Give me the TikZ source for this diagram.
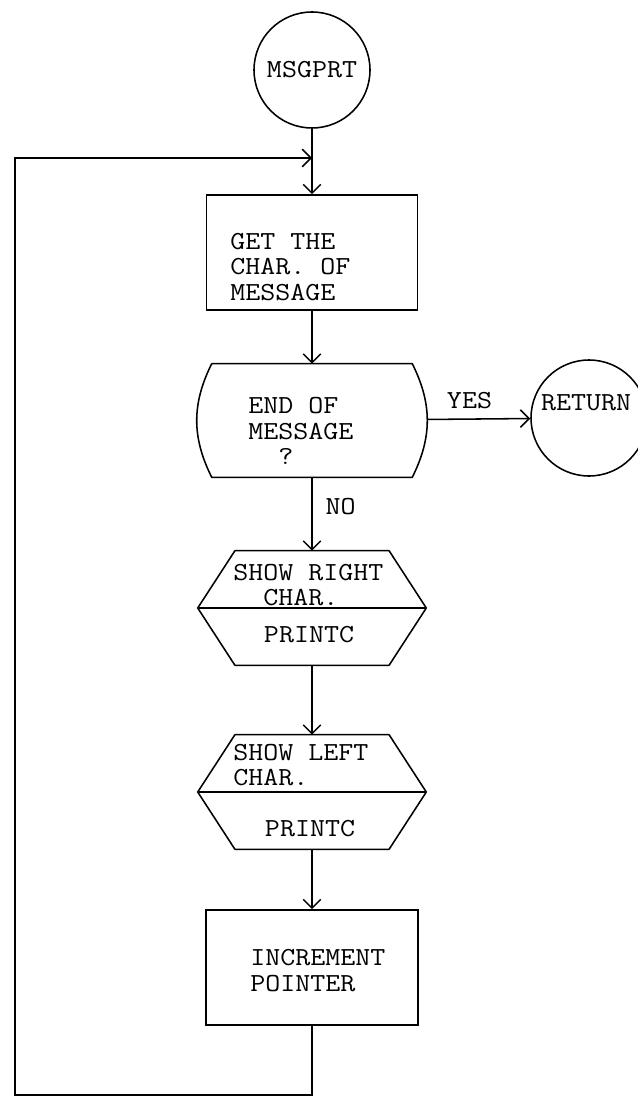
\documentclass[tikz,border=0pt]{standalone}
\usepackage{fontspec}
\setmonofont{Latin Modern Mono}[FakeStretch=1.12]
\usetikzlibrary{positioning,arrows.meta,calc}
\newcommand{\hexout}[1]{%
  \draw[line] ([xshift=9.3mm]#1.north west) -- ([xshift=-9.3mm]#1.north east)
    -- (#1.east) -- ([xshift=-9.3mm]#1.south east)
    -- ([xshift=9.3mm]#1.south west) -- (#1.west) -- cycle;
  \draw[line] (#1.west) -- (#1.east);}
\newcommand{\bulgeout}[1]{%
  \draw[line] ([xshift=3.75mm]#1.north west) -- ([xshift=-3.75mm]#1.north east)
    .. controls +(20,40) and +(20,-40) .. ([xshift=-3.75mm]#1.south east)
    -- ([xshift=3.75mm]#1.south west)
    .. controls +(-20,-40) and +(-20,40) .. ([xshift=3.75mm]#1.north west);}
\tikzset{
  line/.style   ={line width=1.1pt, line join=round},
  procbox/.style={draw, line width=1.1pt, inner sep=0pt},
  term/.style   ={draw, circle, line width=1.1pt, minimum size=29mm,
                  inner sep=0pt, font=\ttfamily\fontsize{18.5}{18.4}\selectfont},
  hexa/.style   ={inner sep=0pt, minimum width=57mm, minimum height=28.5mm},
  decide/.style ={inner sep=0pt, minimum width=57.5mm, minimum height=28.25mm},
  txt/.style    ={inner sep=0pt, align=left,
                  font=\ttfamily\fontsize{18.5}{18.4}\selectfont},
  lbl/.style    ={inner sep=0pt, font=\ttfamily\fontsize{18.5}{18.4}\selectfont},
  ar/.style     ={-{Straight Barb[length=2.2mm,width=4.4mm]}, line width=1.1pt}
}
\begin{document}
\begin{tikzpicture}[x=0.25mm, y=-0.25mm]
\useasboundingbox (0,0) rectangle (637,1097);
% one column of boxes, the loop runs back up the left margin
\node[term]    (start)  at (312,70)    {MSGPRT};
\node[procbox, minimum width=52.75mm, minimum height=28.75mm]
               (getbox) at (312,252.5) {};
\node[txt, anchor=west] (gettxt) at (230,267) {GET THE\\CHAR. OF\\MESSAGE};
\node[decide]  (endq)   at (312,420.5) {};
\bulgeout{endq}
\node[txt, anchor=west] (endtxt) at (248,431)
  {END OF\\MESSAGE\\\phantom{ME}?};
\node[term]    (ret)    at (589,418)   {};
\node[lbl]     (rettxt) at (586,403)   {RETURN};
\node[hexa]    (showr)  at (312,608)   {};
\hexout{showr}
\node[txt, anchor=west] (showrtxt) at (233,585) {SHOW RIGHT\\\phantom{SH}CHAR.};
\node[lbl]     (printr) at (309,635)   {PRINTC};
\node[hexa]    (showl)  at (312,792)   {};
\hexout{showl}
\node[txt, anchor=west] (showltxt) at (233,765) {SHOW LEFT\\CHAR.};
\node[lbl]     (printl) at (310,829)   {PRINTC};
\node[procbox, minimum width=53mm, minimum height=28.75mm]
               (incbox) at (312,967.5) {};
\node[txt, anchor=west] (inctxt) at (250,970.5) {INCREMENT\\POINTER};

\coordinate (join)   at (312,158);
\coordinate (corner) at (15,1095);

\draw[ar] (start) -- (getbox);
\draw[ar] (getbox) -- (endq);
\draw[ar] (endq) -- node[lbl, above=2.4mm, pos=0.41]{YES} (ret);
\draw[ar] (endq) -- node[lbl, right=3.2mm, pos=0.4]{NO} (showr);
\draw[ar] (showr) -- (showl);
\draw[ar] (showl) -- (incbox);
\draw[ar] (incbox) |- (corner) |- (join);
\end{tikzpicture}
\end{document}
